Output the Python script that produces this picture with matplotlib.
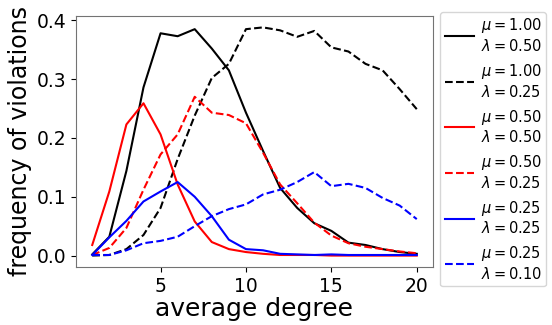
import matplotlib
matplotlib.use("Agg")
import matplotlib.pyplot as plt

degree = list(range(1, 21))

mu1_lam50 = [0.002, 0.032, 0.144, 0.286, 0.378, 0.373, 0.385, 0.352, 0.315, 0.243,
             0.178, 0.115, 0.081, 0.055, 0.042, 0.022, 0.018, 0.011, 0.006, 0.003]
mu1_lam25 = [0.000, 0.001, 0.011, 0.035, 0.081, 0.164, 0.238, 0.302, 0.326, 0.385,
             0.388, 0.383, 0.372, 0.382, 0.354, 0.347, 0.326, 0.315, 0.283, 0.249]
mu50_lam50 = [0.018, 0.109, 0.223, 0.259, 0.206, 0.121, 0.058, 0.023, 0.011, 0.006,
              0.003, 0.001, 0.001, 0.001, 0.000, 0.000, 0.000, 0.000, 0.000, 0.000]
mu50_lam25 = [0.001, 0.013, 0.047, 0.112, 0.172, 0.206, 0.270, 0.243, 0.239, 0.225,
              0.175, 0.121, 0.089, 0.056, 0.034, 0.021, 0.015, 0.011, 0.007, 0.004]
mu25_lam25 = [0.001, 0.031, 0.059, 0.092, 0.109, 0.125, 0.100, 0.067, 0.027, 0.011,
              0.009, 0.003, 0.002, 0.001, 0.002, 0.001, 0.001, 0.001, 0.001, 0.001]
mu25_lam10 = [0.001, 0.001, 0.009, 0.021, 0.025, 0.032, 0.050, 0.067, 0.079, 0.087,
              0.104, 0.112, 0.125, 0.142, 0.118, 0.122, 0.115, 0.098, 0.085, 0.062]

series = [
    (mu1_lam50, "k", "-", "$\\mu=1.00$\n$\\lambda=0.50$"),
    (mu1_lam25, "k", "--", "$\\mu=1.00$\n$\\lambda=0.25$"),
    (mu50_lam50, "r", "-", "$\\mu=0.50$\n$\\lambda=0.50$"),
    (mu50_lam25, "r", "--", "$\\mu=0.50$\n$\\lambda=0.25$"),
    (mu25_lam25, "b", "-", "$\\mu=0.25$\n$\\lambda=0.25$"),
    (mu25_lam10, "b", "--", "$\\mu=0.25$\n$\\lambda=0.10$"),
]

fig = plt.figure(figsize=(5.52, 3.25), dpi=100)
ax = fig.add_axes([0.1377, 0.1785, 0.6467, 0.7723])

for vals, col, ls, lab in series:
    ax.plot(degree, vals, color=col, linestyle=ls, linewidth=1.5, label=lab)

ax.set_xticks([5, 10, 15, 20])
ax.set_yticks([0.0, 0.1, 0.2, 0.3, 0.4])
ax.tick_params(labelsize=13.5)
ax.set_xlabel("average degree", fontsize=18, labelpad=1)
ax.set_ylabel("frequency of violations", fontsize=17, labelpad=3)

for sp in ax.spines.values():
    sp.set_color("0.45")

ax.legend(loc="upper left", bbox_to_anchor=(1.02, 1.016), borderaxespad=0,
          fontsize=10.5, labelspacing=0.55, handlelength=2.0, handletextpad=0.5,
          borderpad=0.3)

fig.savefig("out.png", dpi=100)
